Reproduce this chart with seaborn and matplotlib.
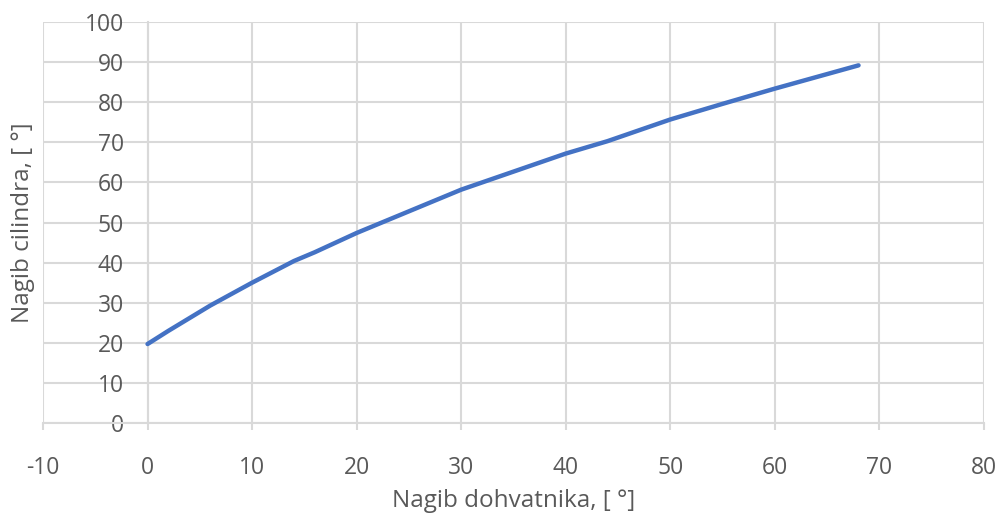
import pandas as pd
import matplotlib.pyplot as plt
import seaborn as sns

# values
nagib_dohvatnika = [0, 2, 6, 10, 14, 16, 20, 25, 30, 35, 40, 44, 46, 50, 55, 60, 64, 68]
nagib_cilindra = [19.7, 23.0, 29.3, 35.0, 40.4, 42.6, 47.4, 52.8, 58.2, 62.7, 67.2, 70.3, 72.1, 75.7, 79.6, 83.4, 86.3, 89.2]

x_ticks = [-10, 0, 10, 20, 30, 40, 50, 60, 70, 80]
y_ticks = [0, 10, 20, 30, 40, 50, 60, 70, 80, 90, 100]

sns.set_theme(style="white")
plt.rcParams["font.family"] = ["Open Sans", "DejaVu Sans"]
plt.rcParams["axes.unicode_minus"] = False

df = pd.DataFrame({"x": nagib_dohvatnika, "y": nagib_cilindra})

fig = plt.figure(figsize=(10, 5.15), dpi=100)
ax = fig.add_axes([0.043, 0.1786, 0.941, 0.7786])

grid_col = "#d9d9d9"
text_col = "#595959"

sns.lineplot(data=df, x="x", y="y", color="#4472C4", linewidth=3.2,
             solid_capstyle="round", ax=ax, zorder=3)

ax.set_xlim(-10, 80)
ax.set_ylim(0, 100)
ax.set_xticks(x_ticks)
ax.set_yticks(y_ticks)

ax.grid(True, color=grid_col, linewidth=1.5)
ax.set_axisbelow(True)

for side in ["top", "right"]:
    ax.spines[side].set_visible(False)
ax.spines["left"].set_position(("data", 0))
ax.spines["bottom"].set_position(("data", 0))
for side in ["left", "bottom"]:
    ax.spines[side].set_color(grid_col)
    ax.spines[side].set_linewidth(1.5)

ax.tick_params(axis="x", length=5, width=1.5, color=grid_col, pad=19,
               labelsize=16.5, labelcolor=text_col, direction="out", bottom=True)
ax.tick_params(axis="y", length=0, pad=17, labelsize=16.5, labelcolor=text_col)

ax.set_xlabel("Nagib dohvatnika, [ °]", fontsize=17.5, color=text_col, labelpad=6)
ax.set_ylabel("Nagib cilindra, [ °]", fontsize=17.5, color=text_col)
ax.yaxis.set_label_coords(-0.009, 0.5)

fig.savefig("out.png", dpi=100)
